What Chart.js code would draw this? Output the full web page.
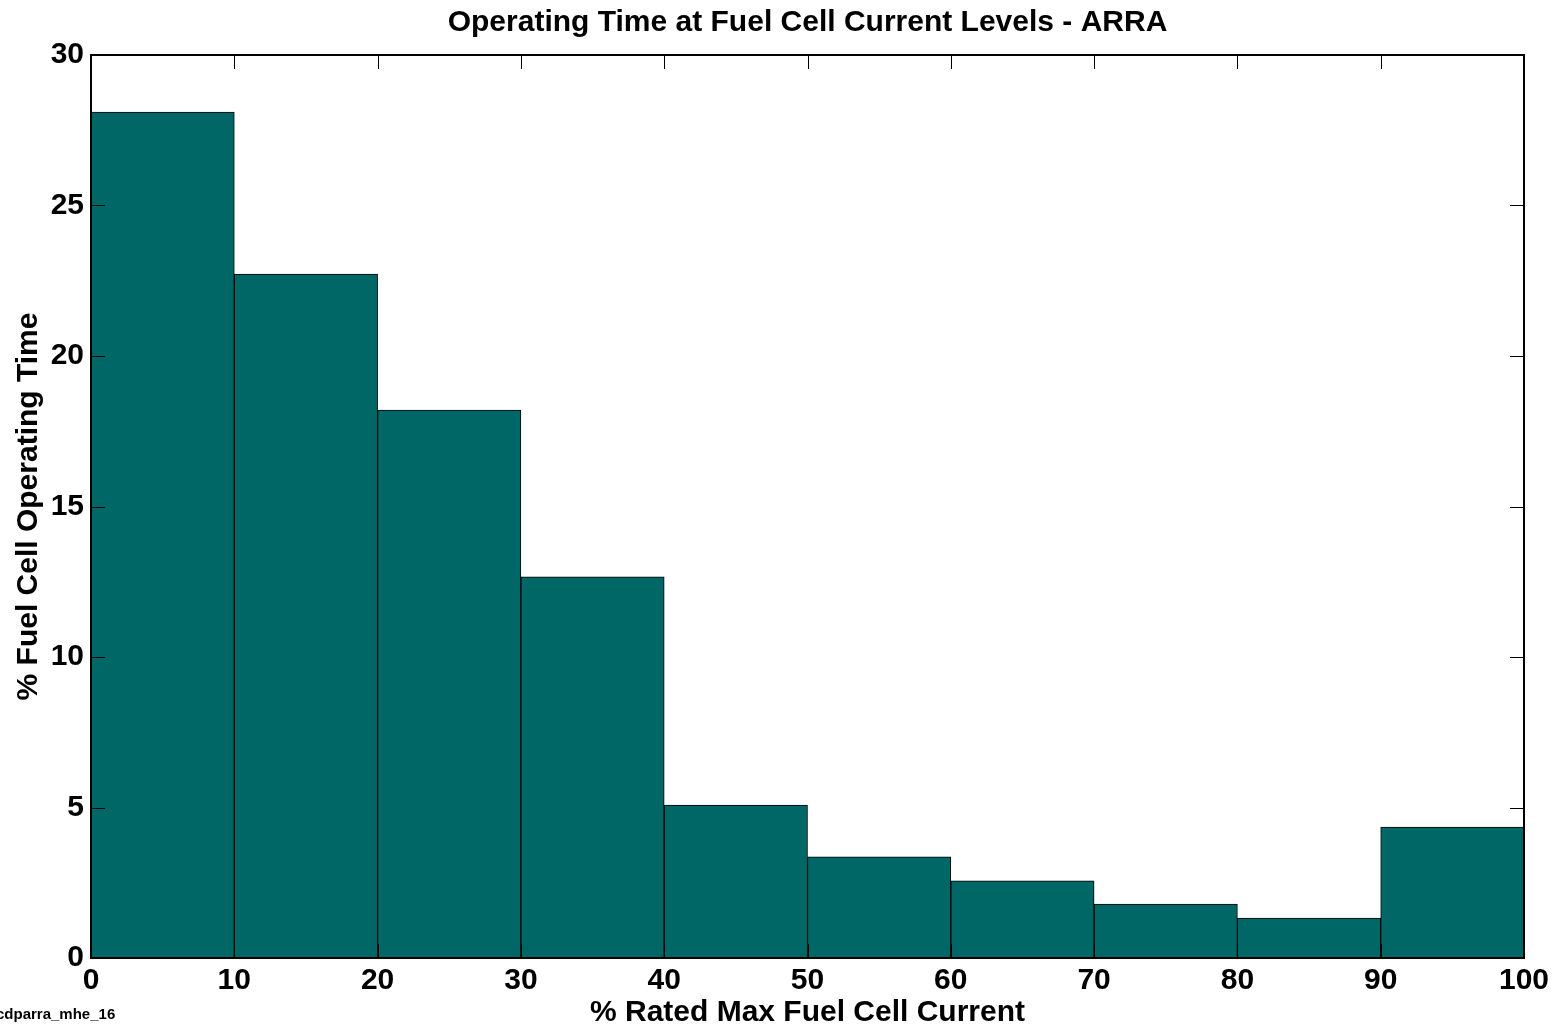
<!DOCTYPE html>
<html>
<head>
<meta charset="utf-8">
<script src="https://cdn.jsdelivr.net/npm/chart.js@4.4.1/dist/chart.umd.min.js"></script>
<style>
  html, body { margin: 0; padding: 0; background: #fff; }
  #wrap { width: 1557px; height: 1025px; position: relative; }
</style>
</head>
<body>
<div id="wrap"><canvas id="chart"></canvas></div>
<script>
// histogram bin centres (% rated max current) and share of operating time
const binCenters = [5, 15, 25, 35, 45, 55, 65, 75, 85, 95];
const operatingPct = [28.1, 22.72, 18.2, 12.66, 5.08, 3.36, 2.56, 1.79, 1.33, 4.35];
const xTicks = [0, 10, 20, 30, 40, 50, 60, 70, 80, 90, 100];
const yTicks = [0, 5, 10, 15, 20, 25, 30];

const FONT = 'Liberation Sans, Arial, Helvetica, sans-serif';

// MATLAB style frame: box on all sides, ticks pointing inward
const framePlugin = {
    id: 'frame',
    afterDatasetsDraw(chart) {
        const { ctx, chartArea: a, scales } = chart;
        const len = 14;
        ctx.save();
        ctx.strokeStyle = '#000';
        ctx.lineWidth = 1;
        ctx.beginPath();
        scales.x.ticks.forEach(t => {
            const px = Math.round(scales.x.getPixelForValue(t.value)) + 0.5;
            ctx.moveTo(px, a.top); ctx.lineTo(px, a.top + len);
            ctx.moveTo(px, a.bottom); ctx.lineTo(px, a.bottom - len);
        });
        scales.y.ticks.forEach(t => {
            const py = Math.round(scales.y.getPixelForValue(t.value)) + 0.5;
            ctx.moveTo(a.left, py); ctx.lineTo(a.left + len, py);
            ctx.moveTo(a.right, py); ctx.lineTo(a.right - len, py);
        });
        ctx.stroke();
        ctx.lineWidth = 2;
        ctx.strokeRect(a.left, a.top, a.right - a.left, a.bottom - a.top);
        // footer tag
        ctx.fillStyle = '#000';
        ctx.font = 'bold 15px ' + FONT;
        ctx.textBaseline = 'alphabetic';
        ctx.fillText('cdparra_mhe_16', -4, 1019);
        ctx.restore();
    }
};

const chart = new Chart(document.getElementById('chart'), {
    type: 'bar',
    data: {
        datasets: [{
            data: binCenters.map((x, i) => ({ x: x, y: operatingPct[i] })),
            backgroundColor: '#006767',
            borderColor: '#000',
            borderWidth: 1,
            barPercentage: 1,
            categoryPercentage: 1
        }]
    },
    options: {
        responsive: true,
        maintainAspectRatio: false,
        animation: false,
        layout: { padding: { left: 0, right: 33, top: 0, bottom: 0 } },
        plugins: {
            legend: { display: false },
            tooltip: { enabled: false },
            title: {
                display: true,
                fullSize: false,
                text: 'Operating Time at Fuel Cell Current Levels - ARRA',
                color: '#000',
                font: { family: FONT, size: 30, weight: 'bold' },
                padding: { top: 5, bottom: 14 }
            }
        },
        scales: {
            x: {
                type: 'linear',
                min: 0,
                max: 100,
                offset: false,
                afterBuildTicks: s => { s.ticks = xTicks.map(v => ({ value: v })); },
                afterFit: s => { s.height = 67; },
                grid: { display: false, drawTicks: false },
                border: { display: false },
                ticks: {
                    color: '#000',
                    padding: 5,
                    maxRotation: 0,
                    font: { family: FONT, size: 30, weight: 'bold' }
                },
                title: {
                    display: true,
                    text: '% Rated Max Fuel Cell Current',
                    color: '#000',
                    font: { family: FONT, size: 30, weight: 'bold' },
                    padding: { top: 0, bottom: -6 }
                }
            },
            y: {
                min: 0,
                max: 30,
                afterBuildTicks: s => { s.ticks = yTicks.map(v => ({ value: v })); },
                afterFit: s => { s.width = 91; },
                grid: { display: false, drawTicks: false },
                border: { display: false },
                ticks: {
                    color: '#000',
                    padding: 7,
                    font: { family: FONT, size: 30, weight: 'bold' }
                },
                title: {
                    display: true,
                    text: '% Fuel Cell Operating Time',
                    color: '#000',
                    font: { family: FONT, size: 30, weight: 'bold' },
                    padding: { top: 11, bottom: 0 }
                }
            }
        }
    },
    plugins: [framePlugin]
});
</script>
</body>
</html>
